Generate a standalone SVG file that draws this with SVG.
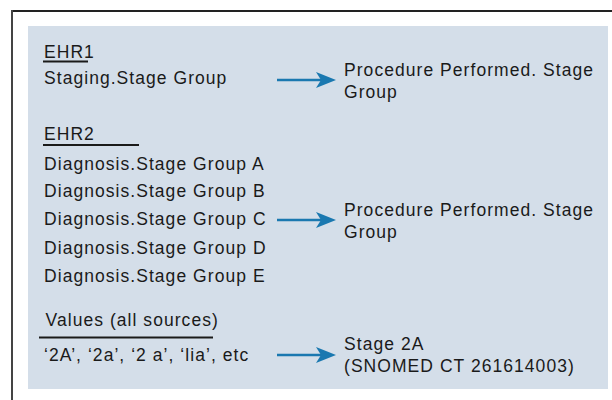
<svg xmlns="http://www.w3.org/2000/svg" width="612" height="400" viewBox="0 0 612 400">
  <style>
    .t { font-family: "Liberation Sans", Arial, sans-serif; font-size: 17.5px; letter-spacing: 1.05px; fill: #1a1a1a; }
    .ul { stroke: #1a1a1a; stroke-width: 1.8; }
    .conn { stroke: #1a78b0; stroke-width: 2.6; fill: none; }
  </style>
  <defs>
    <marker id="arrowhead" viewBox="0 0 20 16" markerWidth="20" markerHeight="16" refX="5" refY="8" orient="auto" markerUnits="userSpaceOnUse">
      <path d="M0,0 L20,8 L0,16 L5,8 Z" fill="#1a78b0"/>
    </marker>
  </defs>

  <!-- frame -->
  <line x1="11" y1="11" x2="612" y2="11" stroke="#222" stroke-width="2"/>
  <line x1="12" y1="10" x2="12" y2="400" stroke="#444" stroke-width="2"/>
  <rect x="28" y="26" width="580" height="363" fill="#d4dee9"/>

  <!-- EHR1 source -->
  <g id="ehr1">
    <text class="t" x="44" y="58">EHR1</text>
    <line class="ul" x1="43" y1="61.5" x2="88" y2="61.5"/>
    <text class="t" x="44" y="83.5">Staging.Stage Group</text>
  </g>

  <!-- EHR2 source -->
  <g id="ehr2">
    <text class="t" x="44" y="140">EHR2</text>
    <line class="ul" x1="43" y1="145" x2="139" y2="145"/>
    <text class="t" x="44" y="169.5">Diagnosis.Stage Group A</text>
    <text class="t" x="44" y="197">Diagnosis.Stage Group B</text>
    <text class="t" x="44" y="225">Diagnosis.Stage Group C</text>
    <text class="t" x="44" y="253.5">Diagnosis.Stage Group D</text>
    <text class="t" x="44" y="281.5">Diagnosis.Stage Group E</text>
  </g>

  <!-- raw values -->
  <g id="values">
    <text class="t" x="45.5" y="325.5">Values (all sources)</text>
    <line class="ul" x1="39" y1="337.5" x2="213" y2="337.5"/>
    <text class="t" x="44" y="361">‘2A’, ‘2a’, ‘2 a’, ‘lia’, etc</text>
  </g>

  <!-- targets -->
  <g id="target1">
    <text class="t" x="344" y="76">Procedure Performed. Stage</text>
    <text class="t" x="344" y="98">Group</text>
  </g>
  <g id="target2">
    <text class="t" x="344" y="215.5">Procedure Performed. Stage</text>
    <text class="t" x="344" y="237.5">Group</text>
  </g>
  <g id="target3">
    <text class="t" x="344" y="350">Stage 2A</text>
    <text class="t" x="344" y="372">(SNOMED CT 261614003)</text>
  </g>

  <!-- mapping arrows -->
  <g id="connectors">
    <line class="conn" x1="277" y1="80" x2="321" y2="80" marker-end="url(#arrowhead)"/>
    <line class="conn" x1="277" y1="220" x2="321" y2="220" marker-end="url(#arrowhead)"/>
    <line class="conn" x1="277" y1="355" x2="321" y2="355" marker-end="url(#arrowhead)"/>
  </g>
</svg>
